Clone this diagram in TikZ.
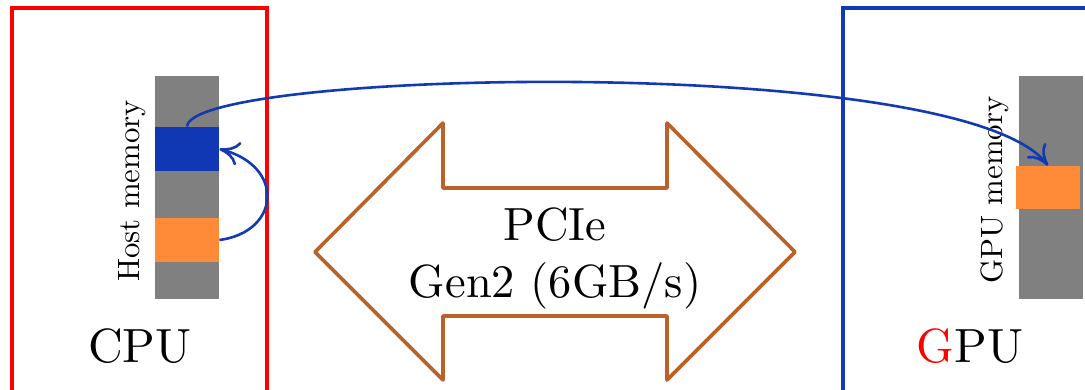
\documentclass[tikz,border=0pt]{standalone}
\usepackage{fontspec}
\setmainfont{lmroman10-regular}[Extension=.otf]
\usetikzlibrary{arrows.meta}
\definecolor{cpured}{RGB}{255,0,0}
\definecolor{gpublue}{RGB}{18,58,178}
\definecolor{blockblue}{RGB}{16,56,180}
\definecolor{blockorange}{RGB}{255,138,56}
\definecolor{memgray}{RGB}{128,128,128}
\definecolor{linkbrown}{RGB}{186,98,42}
\begin{document}
\begin{tikzpicture}[x=0.5pt,y=-0.5pt,
  devbox/.style={draw, line width=2pt, inner sep=0pt, minimum height=206pt},
  membar/.style={fill=memgray, inner sep=0pt, minimum width=32pt, minimum height=111.5pt},
  memblock/.style={inner sep=0pt, minimum width=32pt, minimum height=22pt},
  memlabel/.style={rotate=90, anchor=base, inner sep=0pt, font=\fontsize{15.4}{18}\selectfont},
  devlabel/.style={anchor=base, inner sep=0pt, font=\fontsize{24}{28}\selectfont},
  copyarrow/.style={draw=gpublue, line width=1.3pt,
    -{Computer Modern Rightarrow[length=10pt,width=12pt,line width=1.3pt]}},
  link/.style={draw=linkbrown, line width=1.8pt, line join=round}]
\useasboundingbox (0,0) rectangle (1085,390);
\clip (0,0) rectangle (1085,390);

% host side
\node[devbox, draw=cpured, minimum width=127.75pt] (cpu) at (139.25,214) {};
\node[membar] (hostmem) at (187,187.5) {};
\node[memblock, fill=blockblue] (hostblue) at (187,149) {};
\node[memblock, fill=blockorange] (hostorange) at (187,240) {};
\node[memlabel] (hostlabel) at (139,191) {Host memory};
\node[devlabel] (cpulabel) at (140,362) {CPU};

% device side
\node[devbox, draw=gpublue, minimum width=138.5pt] (gpu) at (981.5,214) {};
\node[membar] (gpumem) at (1051,187.5) {};
\node[memblock, fill=blockorange, minimum height=21.5pt] (gpuorange) at (1048,187.5) {};
\node[memlabel] (gpumemlabel) at (1002,190) {GPU memory};
\node[devlabel] (gpulabel) at (970,362) {\textcolor{red}{G}PU};

% PCIe link
\draw[link] (315,252) -- (443,123) -- (443,188) -- (667,188) -- (667,123)
  -- (795,252) -- (667,380) -- (667,316) -- (443,316) -- (443,380) -- cycle;
\node[align=center, inner sep=0pt, font=\fontsize{23.25}{28.5}\selectfont] (pcie) at (555,258)
  {PCIe\\Gen2 (6GB/s)};

% copies
\draw[copyarrow] (hostorange.east) .. controls +(61,-8) and +(66,17) .. (hostblue.east);
\draw[copyarrow] (hostblue.north) .. controls +(3,-57) and +(-87,-113) .. (gpuorange.north);
\end{tikzpicture}
\end{document}
